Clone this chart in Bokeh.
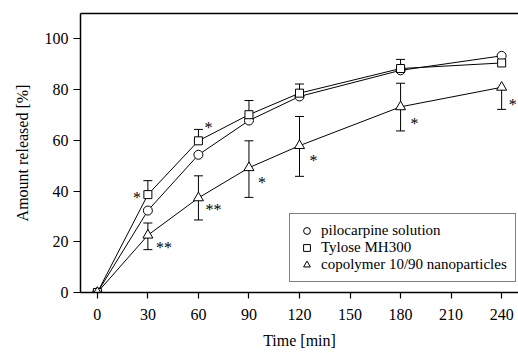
from bokeh.plotting import figure
from bokeh.models import (Range1d, FixedTicker, LinearAxis, Whisker, ColumnDataSource,
                          Legend, LegendItem, TeeHead)
from bokeh.core.properties import value
from bokeh.embed import file_html
from bokeh.resources import INLINE

FONT = "Liberation Serif"

# ---- data ----
time = [0, 30, 60, 90, 120, 180, 240]
pilocarpine = [0, 32.3, 54.3, 67.8, 77.3, 87.6, 93.3]
tylose = [0, 38.6, 59.8, 70.1, 78.6, 88.3, 90.5]
copolymer = [0, 22.6, 37.3, 49.2, 57.9, 73.2, 80.9]

tylose_err_time = [30, 60, 90, 120, 180]
tylose_err_upper = [44.1, 64.3, 75.7, 82.2, 91.9]

copoly_err_time = [30, 60, 90, 120, 180, 240]
copoly_err_lower = [16.9, 28.6, 37.5, 45.8, 63.7, 72.2]
copoly_err_upper = [27.4, 46.0, 59.8, 69.4, 82.5, None]

x_ticks = [0, 30, 60, 90, 120, 150, 180, 210, 240]
y_ticks = [0, 20, 40, 60, 80, 100]

# significance marks: (series, time, text)
sig_marks = [("tylose", 30, "*"), ("tylose", 60, "*"),
             ("copolymer", 30, "**"), ("copolymer", 60, "**"),
             ("copolymer", 90, "*"), ("copolymer", 120, "*"),
             ("copolymer", 180, "*"), ("copolymer", 240, "*")]
# screen offsets (px) of each mark from its point
sig_dx = [-11, 10, 16, 15, 13, 14, 14, 11]
sig_dy = [-4, -20, 5, 5, 8, 8, 10, 10]

series = {"pilocarpine": pilocarpine, "tylose": tylose, "copolymer": copolymer}

p = figure(width=518, height=353, output_backend="svg", toolbar_location=None,
           x_range=Range1d(-10, 250), y_range=Range1d(0, 110),
           min_border_left=80, min_border_right=0, min_border_top=13, min_border_bottom=61)
p.outline_line_color = None
p.grid.visible = False
p.background_fill_color = "white"
p.border_fill_color = "white"

for ax in (p.xaxis[0], p.yaxis[0]):
    ax.major_label_text_font = FONT
    ax.major_label_text_font_size = "16px"
    ax.major_label_text_color = "black"
    ax.axis_label_text_font = FONT
    ax.axis_label_text_font_size = "16px"
    ax.axis_label_text_font_style = "normal"
    ax.axis_label_text_color = "black"
    ax.axis_line_color = "black"
    ax.axis_line_width = 1.5
    ax.major_tick_line_color = "black"
    ax.major_tick_line_width = 1.2
    ax.major_tick_in = 0
    ax.minor_tick_line_color = None

p.xaxis.ticker = FixedTicker(ticks=x_ticks)
p.yaxis.ticker = FixedTicker(ticks=y_ticks)
p.xaxis.major_tick_out = 6
p.yaxis.major_tick_out = 7
p.xaxis.major_label_standoff = 10
p.yaxis.major_label_standoff = 5
p.xaxis.axis_label = "Time [min]"
p.yaxis.axis_label = "Amount released [%]"
p.xaxis.axis_label_standoff = 9
p.yaxis.axis_label_standoff = 11

top = LinearAxis(ticker=FixedTicker(ticks=[]), major_label_text_font_size="0px",
                 major_tick_line_color=None, minor_tick_line_color=None,
                 axis_line_color="black", axis_line_width=1.5)
p.add_layout(top, "above")

# lines
for key in ("pilocarpine", "tylose", "copolymer"):
    p.line(time, series[key], line_color="black", line_width=1)

# error bars
src_t = ColumnDataSource(dict(x=tylose_err_time,
                              base=[tylose[time.index(t)] for t in tylose_err_time],
                              upper=tylose_err_upper))
p.add_layout(Whisker(source=src_t, base="x", lower="base", upper="upper",
                     line_color="black", line_width=1, lower_head=None,
                     upper_head=TeeHead(size=9, line_color="black", line_width=1)))

up_t = [t for t, u in zip(copoly_err_time, copoly_err_upper) if u is not None]
src_cu = ColumnDataSource(dict(x=up_t, base=[copolymer[time.index(t)] for t in up_t],
                               upper=[u for u in copoly_err_upper if u is not None]))
p.add_layout(Whisker(source=src_cu, base="x", lower="base", upper="upper",
                     line_color="black", line_width=1, lower_head=None,
                     upper_head=TeeHead(size=9, line_color="black", line_width=1)))
src_cl = ColumnDataSource(dict(x=copoly_err_time,
                               base=[copolymer[time.index(t)] for t in copoly_err_time],
                               lower=copoly_err_lower))
p.add_layout(Whisker(source=src_cl, base="x", lower="lower", upper="base",
                     line_color="black", line_width=1, upper_head=None,
                     lower_head=TeeHead(size=9, line_color="black", line_width=1)))

# markers
r_c = p.scatter(time, pilocarpine, marker="circle", size=9, fill_color="white",
                line_color="black", line_width=1)
r_s = p.scatter(time, tylose, marker="square", size=8, fill_color="white",
                line_color="black", line_width=1)
r_t = p.scatter(time, copolymer, marker="triangle", size=10, fill_color="white",
                line_color="black", line_width=1)

# significance asterisks
sx = [t for (_, t, _) in sig_marks]
sy = [series[s][time.index(t)] for (s, t, _) in sig_marks]
st = [txt for (_, _, txt) in sig_marks]
p.text(x=sx, y=sy, text=st, x_offset=sig_dx, y_offset=[d + 7 for d in sig_dy],
       text_font=value(FONT), text_font_size="16px", text_color="black",
       text_align="center", text_baseline="alphabetic")

legend = Legend(items=[LegendItem(label="pilocarpine solution", renderers=[r_c]),
                       LegendItem(label="Tylose MH300", renderers=[r_s]),
                       LegendItem(label="copolymer 10/90 nanoparticles", renderers=[r_t])],
                location=(209, 10), orientation="vertical",
                label_text_font=FONT, label_text_font_size="15px",
                label_text_color="black", label_height=17, glyph_height=17, glyph_width=17,
                spacing=0, padding=8, margin=0, label_standoff=6,
                border_line_color="black", border_line_width=1,
                background_fill_color="white", background_fill_alpha=1)
p.add_layout(legend, "center")

open("out.html", "w").write(file_html(p, INLINE))
